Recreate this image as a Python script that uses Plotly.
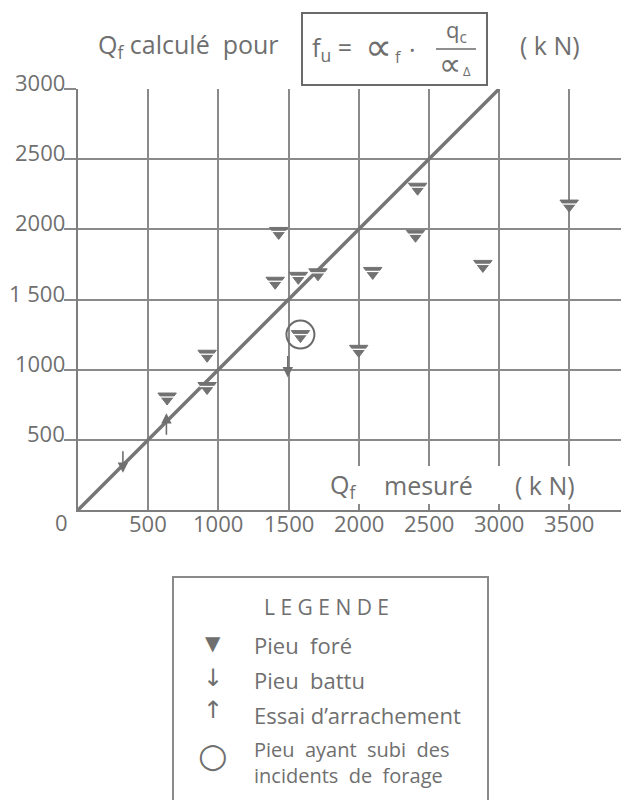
import plotly.graph_objects as go

# ---------------- data ----------------
fore_x = [635, 920, 920, 1405, 1430, 1570, 1710, 2000, 2100, 2405, 2420, 2885, 3500]
fore_y = [805, 880, 1110, 1630, 1985, 1665, 1690, 1145, 1700, 1965, 2300, 1750, 2180]
incident_x = [1585]
incident_y = [1250]
battu_x = [320, 1495]
battu_y = [265, 945]
arrach_x = [630]
arrach_y = [690]
ref_line_x = [0, 3000]
ref_line_y = [0, 3000]

x_ticks = [500, 1000, 1500, 2000, 2500, 3000, 3500]
x_ticktext = ["500", "1000", "1500", "2000", "2500", "3000", "3500"]
y_ticks = [500, 1000, 1500, 2000, 2500, 3000]
y_ticktext = ["500", "1000", "1 500", "2000", "2500", "3000"]

# ---------------- layout geometry ----------------
# reference-pixel coordinates; the page body adds an 8px offset
OFF = 8
W, H = 629 - OFF, 800 - OFF
REF_L, REF_T, REF_B = 78, 89, 510
ML, MT = REF_L - OFF, REF_T - OFF
PH = REF_B - REF_T
MB = H - MT - PH
PW = W - ML
SCALE = PH / 3000.0
XMAX = PW / SCALE

GREY = "#6f6f6f"
LGREY = "#8a8a8a"
FONT = "Open Sans"
GLYPH = "DejaVu Sans"


def px(xr):
    return (xr - REF_L) / PW


def py(yr):
    return (REF_B - yr) / PH


fig = go.Figure()

fig.add_trace(go.Scatter(x=ref_line_x, y=ref_line_y, mode="lines",
                         line=dict(color="#767676", width=3.5),
                         hoverinfo="skip", showlegend=False))

all_fx = fore_x + incident_x
all_fy = fore_y + incident_y
fig.add_trace(go.Scatter(x=all_fx, y=all_fy, mode="markers",
                         marker=dict(symbol="triangle-down", size=16, color="#727272",
                                     line=dict(color="#727272", width=1)),
                         name="Pieu foré", showlegend=False))
fig.add_trace(go.Scatter(x=all_fx, y=all_fy, mode="markers",
                         marker=dict(symbol="line-ew", size=11, color="white",
                                     line=dict(color="white", width=1.3)),
                         hoverinfo="skip", showlegend=False))
fig.add_trace(go.Scatter(x=incident_x, y=incident_y, mode="markers",
                         marker=dict(symbol="circle-open", size=28, color="#6a6a6a",
                                     line=dict(color="#6a6a6a", width=2)),
                         name="Pieu ayant subi des incidents de forage", showlegend=False))

annotations = []
for bx, by in zip(battu_x, battu_y):
    annotations.append(dict(x=bx, y=by, xref="x", yref="y", text="", showarrow=True,
                            ax=0, ay=-23, arrowhead=2, arrowsize=1.3, arrowwidth=1.6,
                            arrowcolor="#6f6f6f"))
for ax_, ay_ in zip(arrach_x, arrach_y):
    annotations.append(dict(x=ax_, y=ay_, xref="x", yref="y", text="", showarrow=True,
                            ax=0, ay=23, arrowhead=2, arrowsize=1.3, arrowwidth=1.6,
                            arrowcolor="#6f6f6f"))

# tick labels (positioned from the tick arrays, via the axes)
for v, t in zip(y_ticks, y_ticktext):
    annotations.append(dict(x=px(67), y=v, xref="paper", yref="y", text=t, showarrow=False,
                            xanchor="right", yanchor="middle", yshift=7,
                            font=dict(family=FONT, size=22, color=GREY)))
for v, t in zip(x_ticks, x_ticktext):
    annotations.append(dict(x=v, y=py(523), xref="x", yref="paper", text=t, showarrow=False,
                            xanchor="center", yanchor="middle",
                            font=dict(family=FONT, size=22, color=GREY)))


def txt(x, y, text, size=22, xanchor="center", yanchor="middle", family=FONT, **kw):
    d = dict(x=px(x), y=py(y), xref="paper", yref="paper", text=text, showarrow=False,
             xanchor=xanchor, yanchor=yanchor,
             font=dict(family=family, size=size, color=GREY))
    d.update(kw)
    annotations.append(d)


# title
txt(96, 45, "Q<sub>f</sub> calculé  pour", size=25, xanchor="left")
txt(310, 49, "f<sub>u</sub> =", size=25, xanchor="left")
txt(378, 47, "∝", size=38, family=GLYPH)
txt(398, 57, "f", size=16)
txt(412, 49, "·", size=25)
txt(456, 31, "q<sub>c</sub>", size=22)
txt(450, 64, "∝", size=31, family=GLYPH)
txt(467, 71, "Δ", size=13)
txt(518, 45, "( k N)", size=25, xanchor="left")

# x axis title
txt(328, 485, "Q<sub>f</sub>", size=25, xanchor="left")
txt(382, 485, "mesuré", size=25, xanchor="left")
txt(513, 485, "( k N)", size=25, xanchor="left")

# zero corner label
txt(61, 522, "0", size=22)

# legend
txt(326, 607, "L E G E N D E", size=21)
txt(213, 643, "▼", size=20, family=GLYPH)
txt(213, 678, "↓", size=24, family=GLYPH)
txt(213, 710, "↑", size=24, family=GLYPH)
txt(213, 755, "○", size=34, family=GLYPH)
txt(252, 645, "Pieu  foré", size=22, xanchor="left")
txt(252, 680, "Pieu  battu", size=22, xanchor="left")
txt(252, 715, "Essai d’arrachement", size=22, xanchor="left")
txt(252, 762, "Pieu  ayant  subi  des<br>incidents  de  forage", size=20, xanchor="left",
    align="left")

shapes = [
    dict(type="rect", xref="paper", yref="paper", x0=px(322), x1=px(586), y0=py(504), y1=py(466),
         fillcolor="white", line=dict(width=0), layer="above"),
    dict(type="rect", xref="paper", yref="paper", x0=px(302), x1=px(487), y0=py(85), y1=py(13),
         line=dict(color="#6a6a6a", width=2)),
    dict(type="line", xref="paper", yref="paper", x0=px(436), x1=px(476), y0=py(49), y1=py(49),
         line=dict(color="#6a6a6a", width=1.5)),
    dict(type="rect", xref="paper", yref="paper", x0=px(173), x1=px(488), y0=py(815), y1=py(577),
         line=dict(color="#8a8a8a", width=2)),
]

fig.update_layout(
    width=W, height=H,
    margin=dict(l=ML, r=0, t=MT, b=MB),
    paper_bgcolor="white", plot_bgcolor="white",
    showlegend=False,
    annotations=annotations,
    shapes=shapes,
    font=dict(family=FONT, color=GREY),
)
fig.update_xaxes(range=[0, XMAX], tickvals=x_ticks, showticklabels=False,
                 showgrid=True, gridcolor=LGREY, gridwidth=1.5,
                 zeroline=False, showline=True, linecolor="#7e7e7e", linewidth=2,
                 ticks="", automargin=False)
fig.update_yaxes(range=[0, 3000], tickvals=y_ticks, showticklabels=False,
                 showgrid=True, gridcolor=LGREY, gridwidth=1.5,
                 zeroline=False, showline=True, linecolor="#7e7e7e", linewidth=2,
                 ticks="outside", ticklen=12, tickcolor=LGREY, tickwidth=1.5,
                 automargin=False)

fig.write_html("out.html")
